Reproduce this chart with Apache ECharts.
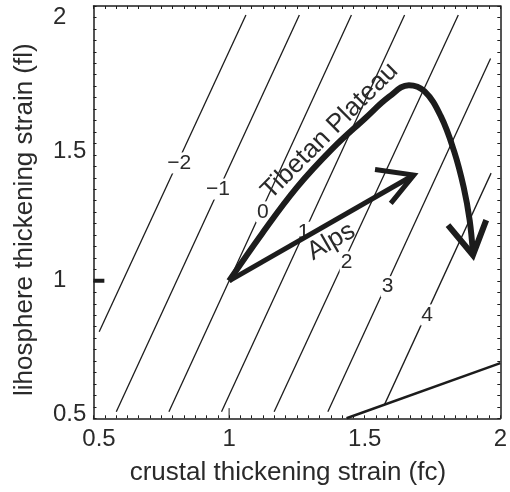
<!DOCTYPE html>
<html>
<head>
<meta charset="utf-8">
<script src="https://cdn.jsdelivr.net/npm/echarts@6/dist/echarts.min.js"></script>
<style>
  html, body { margin: 0; padding: 0; background: #fff; }
  #chart { width: 510px; height: 492px; }
</style>
</head>
<body>
<div id="chart"></div>
<script>
// contour levels and their end points
const contourLevels = [-2, -1, 0, 1, 2, 3, 4]
const contourStarts = [[0.521, 0.815], [0.584, 0.524], [0.778, 0.524], [0.972, 0.524], [1.166, 0.524], [1.364, 0.524], [1.572, 0.548]]
const contourEnds = [[1.062, 1.967], [1.259, 1.967], [1.451, 1.967], [1.647, 1.967], [1.845, 1.967], [1.964, 1.809], [1.966, 1.392]]
const contourLabelPos = [[0.816, 1.429], [0.959, 1.334], [1.124, 1.251], [1.275, 1.177], [1.433, 1.069], [1.584, 0.979], [1.730, 0.876]]

// lower right boundary line
const boundaryLine = [[1.433, 0.5], [2.0, 0.701]]

// Tibetan Plateau path
const tibetPath = [[1.0, 1.0], [1.12, 1.17], [1.25, 1.34], [1.38, 1.48], [1.50, 1.59], [1.59, 1.67], [1.663, 1.712], [1.72, 1.69], [1.78, 1.60], [1.83, 1.47], [1.865, 1.34], [1.887, 1.22], [1.899, 1.10]]
const tibetHead = [[1.807, 1.203], [1.899, 1.094], [1.948, 1.221]]

// Alps path
const alpsPath = [[1.0, 1.0], [1.681, 1.385]]
const alpsHead = [[1.538, 1.405], [1.681, 1.385], [1.596, 1.282]]

// path labels
const pathNames = ['Tibetan Plateau', 'Alps']
const pathLabelPos = [[1.371, 1.545], [1.377, 1.143]]
const pathLabelAngle = [45, 30]

// odd marks on the axes
const yMark = [[0.5, 1], [0.54, 1]]
const xMark = [[1, 0.5], [1, 0.537]]

const ink = '#1c1c1c'
const textInk = '#2a2a2a'
const font = 'Liberation Sans, Arial, sans-serif'

const chart = echarts.init(document.getElementById('chart'))

const frameAxis = {
  type: 'value',
  min: 0.5,
  max: 2,
  interval: 0.5,
  axisLine: { show: true, lineStyle: { color: ink, width: 1.5 } },
  axisTick: { show: true, inside: true, length: 3, lineStyle: { color: ink, width: 1 } },
  minorTick: { show: true, splitNumber: 12, length: 3, lineStyle: { color: ink, width: 1 } },
  splitLine: { show: false },
  minorSplitLine: { show: false }
}

const contourSeries = contourLevels.map((lv, i) => ({
  type: 'line',
  name: 'c' + lv,
  data: [contourStarts[i], contourEnds[i]],
  showSymbol: false,
  lineStyle: { color: ink, width: 1.3 },
  z: 2
}))

const option = {
  animation: false,
  backgroundColor: '#fff',
  grid: { left: 93.5, right: 4, top: 6, bottom: 73.7 },
  xAxis: [
    Object.assign({}, frameAxis, {
      position: 'bottom',
      axisLabel: {
        margin: 9,
        fontSize: 24,
        color: textInk,
        fontFamily: font,
        formatter: v => (v === 0.5 ? '{l|0.5}' : String(v)),
        rich: { l: { fontSize: 24, fontFamily: font, color: textInk, padding: [0, 0, 0, 11] } }
      },
      name: 'crustal thickening strain (fc)',
      nameLocation: 'middle',
      nameGap: 42,
      nameTextStyle: { fontSize: 26, color: textInk, fontFamily: font, padding: [0, 18, 0, 0] }
    }),
    Object.assign({}, frameAxis, { position: 'top', axisLabel: { show: false } })
  ],
  yAxis: [
    Object.assign({}, frameAxis, {
      position: 'left',
      axisLabel: {
        margin: 40.5,
        align: 'left',
        fontSize: 24,
        color: textInk,
        fontFamily: font,
        formatter: v => {
          if (v === 2) return '{t|2}'
          if (v === 1.5) return '{m|1.5}'
          if (v === 0.5) return '{b|0.5}'
          return String(v)
        },
        rich: {
          t: { fontSize: 24, fontFamily: font, color: textInk, padding: [22, 0, 0, 0] },
          m: { fontSize: 24, fontFamily: font, color: textInk, padding: [16, 0, 0, 0] },
          b: { fontSize: 24, fontFamily: font, color: textInk, padding: [0, 0, 8, 0] }
        }
      },
      name: 'lihosphere thickening strain (fl)',
      nameLocation: 'middle',
      nameGap: 56,
      nameTextStyle: { fontSize: 26, color: textInk, fontFamily: font, padding: [0, 15, 0, 0] }
    }),
    Object.assign({}, frameAxis, { position: 'right', axisLabel: { show: false } })
  ],
  series: contourSeries.concat([
    {
      type: 'line',
      data: boundaryLine,
      showSymbol: false,
      lineStyle: { color: ink, width: 2.5 },
      z: 2
    },
    {
      type: 'scatter',
      data: contourLabelPos.map((p, i) => [p[0], p[1], contourLevels[i]]),
      symbolSize: 0,
      itemStyle: { opacity: 1 },
      label: {
        show: true,
        position: 'inside',
        formatter: p => String(p.value[2]).replace('-', '\u2212'),
        fontSize: 21,
        fontFamily: font,
        color: textInk,
        backgroundColor: '#fff',
        padding: [0, 1]
      },
      z: 3
    },
    {
      type: 'line',
      data: tibetPath,
      smooth: 0.4,
      showSymbol: false,
      lineStyle: { color: ink, width: 6, cap: 'butt' },
      z: 5
    },
    {
      type: 'line',
      data: tibetHead,
      showSymbol: false,
      lineStyle: { color: ink, width: 6, join: 'miter', cap: 'butt' },
      z: 5
    },
    {
      type: 'line',
      data: alpsPath,
      showSymbol: false,
      lineStyle: { color: ink, width: 5, cap: 'butt' },
      z: 5
    },
    {
      type: 'line',
      data: alpsHead,
      showSymbol: false,
      lineStyle: { color: ink, width: 5, join: 'miter', cap: 'butt' },
      z: 5
    },
    {
      type: 'scatter',
      data: pathLabelPos.map((p, i) => ({ value: p, name: pathNames[i], label: { rotate: pathLabelAngle[i] } })),
      symbolSize: 0,
      itemStyle: { opacity: 1 },
      label: {
        show: true,
        position: 'inside',
        formatter: p => p.name,
        fontSize: 26,
        fontFamily: font,
        color: textInk
      },
      z: 6
    },
    {
      type: 'line',
      data: yMark,
      showSymbol: false,
      lineStyle: { color: ink, width: 4, cap: 'butt' },
      z: 5
    },
    {
      type: 'line',
      data: xMark,
      showSymbol: false,
      lineStyle: { color: ink, width: 1, cap: 'butt' },
      z: 5
    }
  ])
}

chart.setOption(option)
</script>
</body>
</html>
